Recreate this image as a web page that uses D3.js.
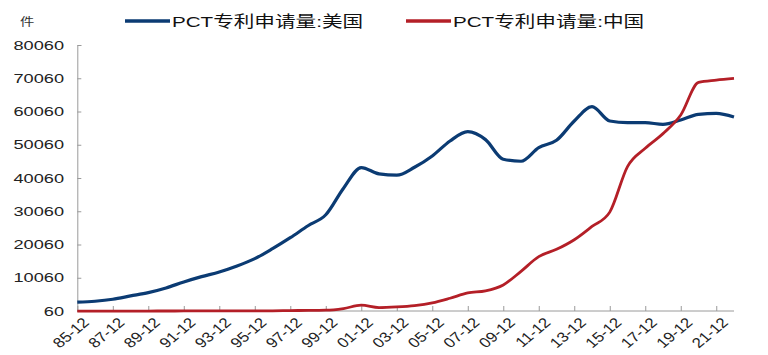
<!DOCTYPE html>
<html><head><meta charset="utf-8">
<script src="https://cdn.jsdelivr.net/npm/d3@7/dist/d3.min.js"></script>
<style>body{margin:0;background:#fff}svg{display:block}</style>
</head><body><svg id="c" width="768" height="355"></svg>
<script>
const years = ["85-12","86-12","87-12","88-12","89-12","90-12","91-12","92-12","93-12","94-12","95-12","96-12","97-12","98-12","99-12","00-12","01-12","02-12","03-12","04-12","05-12","06-12","07-12","08-12","09-12","10-12","11-12","12-12","13-12","14-12","15-12","16-12","17-12","18-12","19-12","20-12","21-12","22-12"];
const usValues = [2700,3000,3600,4600,5600,7000,8800,10400,11800,13600,15800,18800,22100,25700,29000,37000,43200,41300,40900,43300,46700,51200,54000,51600,45700,45100,49200,51400,57200,61500,57200,56700,56700,56200,57500,59200,59500,58400];
const cnValues = [10,20,30,40,50,60,70,80,90,100,110,120,180,250,300,800,1800,1100,1300,1700,2500,3900,5500,6100,7900,12000,16400,18600,21500,25500,29800,43500,49000,53400,59000,68800,69500,70000];
const seriesNames = ["PCT专利申请量:美国","PCT专利申请量:中国"];
const seriesColors = ["#0b3b73","#b41f27"];
const yTicks = [60,10060,20060,30060,40060,50060,60060,70060,80060];
const xTickLabels = years.filter((d,i)=>i%2===0 && i<37);
const unitLabel = "件";

const svg = d3.select("#c");
const x = d3.scalePoint().domain(years).range([77.3, 734]);
const y = d3.scaleLinear().domain([60, 80060]).range([311, 45]);

const axisColor = "#9a9a9a";
// y axis
const ya = svg.append("g").attr("transform","translate(77.3,0)")
  .call(d3.axisRight(y).tickValues(yTicks).tickSize(4).tickFormat(""));
ya.select(".domain").attr("stroke",axisColor);
ya.selectAll(".tick line").attr("stroke",axisColor);
svg.append("g").selectAll("text").data(yTicks).join("text")
  .attr("transform",d=>`translate(64,${y(d)}) scale(1.4,1)`)
  .attr("text-anchor","end").attr("dy","0.35em")
  .attr("font-family","Liberation Sans, Arial, sans-serif").attr("font-size",13).attr("fill","#222")
  .text(d=>d);

// x axis
const xa = svg.append("g").attr("transform","translate(0,311)")
  .call(d3.axisTop(x).tickValues(xTickLabels).tickSize(5).tickFormat("").tickSizeOuter(0));
xa.select(".domain").attr("stroke",axisColor).attr("d","M77.3,0H734");
xa.selectAll(".tick line").attr("stroke",axisColor);
svg.append("g").selectAll("text").data(xTickLabels).join("text")
  .attr("transform",d=>`translate(${x(d)+4},${316}) scale(1.2,1) rotate(-45)`)
  .attr("text-anchor","end").attr("dy","0.75em")
  .attr("font-family","Liberation Sans, Arial, sans-serif").attr("font-size",14).attr("fill","#222")
  .text(d=>d);

// lines
const line = d3.line().x((d,i)=>x(years[i])).y(d=>y(d)).curve(d3.curveMonotoneX);
svg.append("path").datum(usValues).attr("d",line).attr("fill","none")
  .attr("stroke",seriesColors[0]).attr("stroke-width",3.2).attr("stroke-linejoin","round");
svg.append("path").datum(cnValues).attr("d",line).attr("fill","none")
  .attr("stroke",seriesColors[1]).attr("stroke-width",2.8).attr("stroke-linejoin","round");

// unit label
svg.append("text").attr("transform","translate(20,26) scale(1.3,1)").attr("font-family","Noto Sans CJK SC, sans-serif")
  .attr("font-size",11).attr("fill","#333").text(unitLabel);

// legend
const legX = [125, 406];
seriesNames.forEach((n,i)=>{
  const g = svg.append("g");
  g.append("line").attr("x1",legX[i]).attr("x2",legX[i]+45).attr("y1",21).attr("y2",21)
    .attr("stroke",seriesColors[i]).attr("stroke-width",3.5);
  g.append("text").attr("transform",`translate(${legX[i]+47},27) scale(1.33,1)`)
    .attr("font-family","Liberation Sans, Noto Sans CJK SC, sans-serif").attr("font-size",15.5).attr("fill","#111")
    .text(n);
});
</script></body></html>
